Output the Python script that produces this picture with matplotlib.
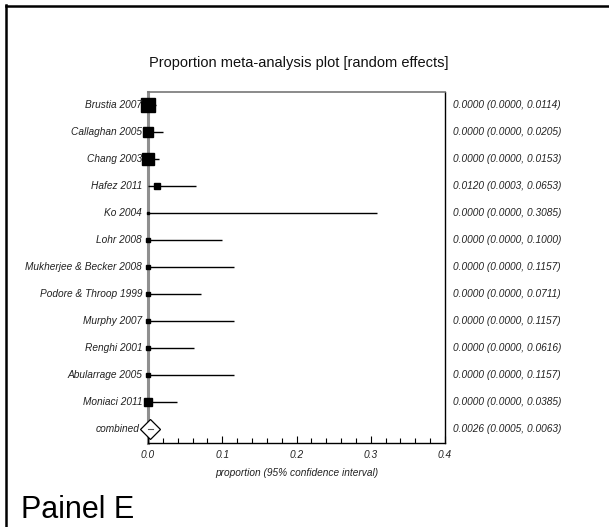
import matplotlib
matplotlib.use("Agg")
import matplotlib.pyplot as plt
from matplotlib.lines import Line2D

plt.rcParams['font.family'] = ['Liberation Sans', 'DejaVu Sans']

studies = ["Brustia 2007", "Callaghan 2005", "Chang 2003", "Hafez 2011", "Ko 2004",
           "Lohr 2008", "Mukherjee & Becker 2008", "Podore & Throop 1999", "Murphy 2007",
           "Renghi 2001", "Abularrage 2005", "Moniaci 2011"]
est = [0.0, 0.0, 0.0, 0.0120, 0.0, 0.0, 0.0, 0.0, 0.0, 0.0, 0.0, 0.0]
lo = [0.0, 0.0, 0.0, 0.0003, 0.0, 0.0, 0.0, 0.0, 0.0, 0.0, 0.0, 0.0]
hi = [0.0114, 0.0205, 0.0153, 0.0653, 0.3085, 0.1000, 0.1157, 0.0711, 0.1157,
      0.0616, 0.1157, 0.0385]
weight_size = [10.5, 7.2, 8.6, 4.3, 1.8, 2.5, 2.5, 3.2, 2.5, 3.2, 2.5, 5.2]
comb_est, comb_lo, comb_hi = 0.0026, 0.0005, 0.0063
xticks = [0.0, 0.1, 0.2, 0.3, 0.4]

W, H = 609, 527
fig = plt.figure(figsize=(W / 100, H / 100), dpi=100)

FS = 7.3
TXT = '#222222'

# axes placement (pixels)
L, R, T, B = 148, 445, 92, 443
ax = fig.add_axes([L / W, (H - B) / H, (R - L) / W, (B - T) / H])
n = len(studies)
ax.set_xlim(0, 0.4)
ax.set_ylim((B - 105) / 27.0, (T - 105) / 27.0)

ax.axvline(0, color='#8f8f8f', lw=2.2, zorder=1, clip_on=False)

ytr = ax.get_yaxis_transform()
for i in range(n):
    ax.plot([lo[i], hi[i]], [i, i], color='black', lw=1.0, zorder=2,
            solid_capstyle='butt', clip_on=False)
    ax.plot(est[i], i, marker='s', color='black', markersize=weight_size[i],
            linestyle='none', zorder=3, clip_on=False)
    ax.text(1.027, i, f"{est[i]:.4f} ({lo[i]:.4f}, {hi[i]:.4f})", transform=ytr,
            ha='left', va='center', fontsize=FS, style='italic', color=TXT)
    ax.text(-0.02, i, studies[i], transform=ytr,
            ha='right', va='center', fontsize=FS, style='italic', color=TXT)

ci = n
ax.plot(comb_est, ci, marker='D', markersize=10, markerfacecolor='white',
        markeredgecolor='black', markeredgewidth=0.9, linestyle='none', zorder=3,
        clip_on=False)
ax.plot([comb_lo, comb_hi], [ci, ci], color='#555555', lw=0.8, zorder=4, clip_on=False)
ax.text(1.027, ci, f"{comb_est:.4f} ({comb_lo:.4f}, {comb_hi:.4f})", transform=ytr,
        ha='left', va='center', fontsize=FS, style='italic', color=TXT)
ax.text(-0.03, ci, "combined", transform=ytr,
        ha='right', va='center', fontsize=FS, style='italic', color=TXT)

ax.spines['left'].set_visible(False)
ax.spines['top'].set_color('#777777')
ax.spines['top'].set_linewidth(1.2)
ax.spines['right'].set_color('black')
ax.spines['right'].set_linewidth(1.0)
ax.spines['bottom'].set_color('black')
ax.spines['bottom'].set_linewidth(1.0)

ax.set_yticks([])
ax.set_xticks(xticks)
ax.set_xticklabels([f"{t:.1f}" for t in xticks], fontsize=FS, style='italic', color=TXT)
ax.set_xticks([t / 100 for t in range(0, 41, 2)], minor=True)
ax.tick_params(axis='x', which='major', direction='in', length=5, width=0.8, pad=5)
ax.tick_params(axis='x', which='minor', direction='in', length=3.5, width=0.8)
ax.set_xlabel("proportion (95% confidence interval)", fontsize=FS, style='italic',
              color=TXT, labelpad=6)

fig.text(299 / W, 1 - 67 / H, "Proportion meta-analysis plot [random effects]",
         ha='center', va='baseline', fontsize=10.5, color='#111111')
fig.text(21 / W, 1 - 518 / H, "Painel E", ha='left', va='baseline', fontsize=22,
         color='black')

# outer frame lines
fig.add_artist(Line2D([5.5 / W, 5.5 / W], [0, 1 - 5 / H], color='black', lw=1.8,
                      transform=fig.transFigure))
fig.add_artist(Line2D([5.5 / W, 1], [1 - 5.5 / H, 1 - 5.5 / H], color='black', lw=1.8,
                      transform=fig.transFigure))

fig.savefig("out.png", dpi=100)
